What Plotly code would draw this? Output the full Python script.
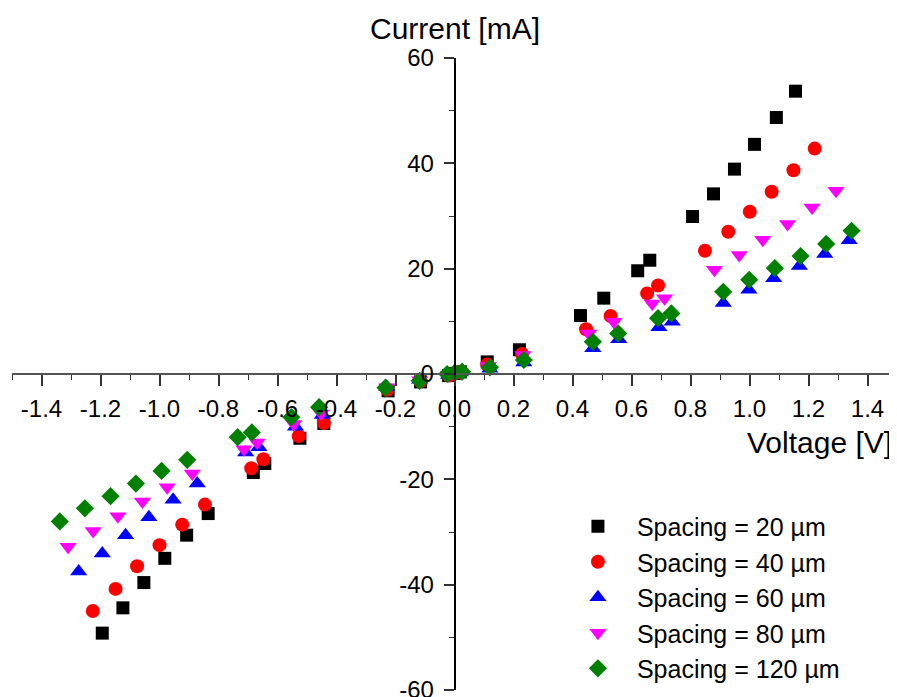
import plotly.graph_objects as go

# ---- data (Voltage [V], Current [mA]) ----
v20 = [-1.194, -1.124, -1.053, -0.982, -0.908, -0.835, -0.682, -0.643, -0.524, -0.443, -0.225, -0.115,
       -0.02, 0.0, 0.02, 0.111, 0.220, 0.427, 0.506, 0.621, 0.662, 0.807, 0.878, 0.949, 1.017, 1.091, 1.156]
i20 = [-49.2, -44.4, -39.6, -35.0, -30.6, -26.5, -18.7, -17.0, -12.2, -9.4, -3.2, -1.5,
       -0.3, 0.1, 0.4, 2.3, 4.6, 11.1, 14.4, 19.6, 21.6, 29.9, 34.2, 38.9, 43.6, 48.7, 53.7]

v40 = [-1.226, -1.149, -1.076, -1.0, -0.923, -0.846, -0.689, -0.648, -0.528, -0.443, -0.228, -0.115,
       -0.02, 0.0, 0.02, 0.111, 0.229, 0.446, 0.529, 0.653, 0.690, 0.849, 0.928, 1.001, 1.075, 1.149, 1.221]
i40 = [-45.0, -40.8, -36.5, -32.5, -28.6, -24.8, -17.9, -16.2, -11.8, -9.3, -3.0, -1.4,
       -0.3, 0.1, 0.4, 1.8, 3.8, 8.5, 11.0, 15.3, 16.8, 23.4, 27.0, 30.8, 34.6, 38.7, 42.8]

v60 = [-1.274, -1.194, -1.115, -1.036, -0.954, -0.872, -0.708, -0.663, -0.539, -0.448, -0.23, -0.118,
       -0.02, 0.0, 0.02, 0.12, 0.235, 0.469, 0.557, 0.693, 0.738, 0.911, 0.998, 1.082, 1.169, 1.255, 1.338]
i60 = [-37.5, -34.1, -30.6, -27.2, -23.9, -20.8, -14.9, -13.9, -10.0, -7.8, -2.4, -1.1,
       -0.2, 0.0, 0.3, 1.0, 2.2, 4.9, 6.6, 8.9, 9.9, 13.5, 16.0, 18.2, 20.5, 22.8, 25.4]

v80 = [-1.310, -1.225, -1.141, -1.058, -0.974, -0.889, -0.714, -0.669, -0.545, -0.452, -0.23, -0.118,
       -0.02, 0.0, 0.02, 0.115, 0.232, 0.455, 0.540, 0.670, 0.712, 0.881, 0.965, 1.045, 1.129, 1.212, 1.293]
i80 = [-32.8, -29.8, -27.0, -24.2, -21.5, -18.9, -14.3, -13.0, -9.5, -7.5, -2.5, -1.2,
       -0.2, 0.0, 0.3, 1.5, 3.6, 7.7, 9.9, 13.4, 14.4, 19.8, 22.6, 25.5, 28.5, 31.6, 34.8]

v120 = [-1.338, -1.253, -1.166, -1.080, -0.993, -0.906, -0.735, -0.687, -0.553, -0.459, -0.234, -0.118,
        -0.025, 0.001, 0.026, 0.120, 0.235, 0.469, 0.555, 0.690, 0.735, 0.911, 0.999, 1.086, 1.173, 1.260, 1.346]
i120 = [-28.0, -25.5, -23.2, -20.8, -18.4, -16.3, -12.0, -11.1, -8.2, -6.3, -2.6, -1.3,
        0.0, 0.25, 0.44, 1.27, 2.66, 6.1, 7.7, 10.6, 11.5, 15.6, 17.9, 20.1, 22.4, 24.7, 27.2]

series_names = ["Spacing = 20 µm", "Spacing = 40 µm", "Spacing = 60 µm",
                "Spacing = 80 µm", "Spacing = 120 µm"]

# tick labels (plain hyphen minus, as in the original)
x_tick_vals = [-1.4, -1.2, -1.0, -0.8, -0.6, -0.4, -0.2, 0.0, 0.2, 0.4, 0.6, 0.8, 1.0, 1.2, 1.4]
x_tick_text = ["-1.4", "-1.2", "-1.0", "-0.8", "-0.6", "-0.4", "-0.2", "0.0",
               "0.2", "0.4", "0.6", "0.8", "1.0", "1.2", "1.4"]
y_tick_vals = [-60, -40, -20, 0, 20, 40, 60]
y_tick_text = ["-60", "-40", "-20", "0", "20", "40", "60"]

FONT = "Liberation Sans, Arial, sans-serif"

styles = [
    dict(symbol="square", color="#000000", size=13),
    dict(symbol="circle", color="#FF0000", size=14),
    dict(symbol="triangle-up", color="#0000FF", size=15),
    dict(symbol="triangle-down", color="#FF00FF", size=15),
    dict(symbol="diamond", color="#008000", size=14),
]

fig = go.Figure()
for name, xs, ys, st in zip(series_names, [v20, v40, v60, v80, v120],
                            [i20, i40, i60, i80, i120], styles):
    fig.add_trace(go.Scatter(
        x=xs, y=ys, mode="markers", name=name,
        marker=dict(symbol=st["symbol"], color=st["color"], size=st["size"],
                    line=dict(width=0)),
    ))

# page body has an 8px margin, so the figure is sized to fit the 897x697 window
fig.update_layout(
    width=889, height=689,
    margin=dict(l=4, r=0, t=50, b=7, autoexpand=False),
    paper_bgcolor="white", plot_bgcolor="white",
    font=dict(family=FONT, color="black"),
    showlegend=True,
    legend=dict(
        x=0.618, y=0.295, xanchor="left", yanchor="top",
        font=dict(size=25, family=FONT, color="black"),
        bgcolor="rgba(0,0,0,0)", borderwidth=0,
        itemwidth=68, itemsizing="trace", tracegroupgap=0,
    ),
    xaxis=dict(
        range=[-1.5, 1.5], anchor="free", position=0.5,
        showline=True, linecolor="#555555", linewidth=1.5,
        showgrid=False, zeroline=False,
        ticks="outside", ticklen=11, tickwidth=1.5, tickcolor="#333333",
        tickmode="array", tickvals=x_tick_vals, ticktext=x_tick_text,
        tickfont=dict(size=24, family=FONT, color="black"),
        ticklabelstandoff=2, ticklabeloverflow="allow",
        minor=dict(ticks="outside", ticklen=5, tickwidth=1.2, tickcolor="#333333",
                   tickmode="linear", tick0=0, dtick=0.1),
        automargin=False,
    ),
    yaxis=dict(
        range=[-60, 60], anchor="free", position=0.5,
        showline=True, linecolor="#000000", linewidth=1.5,
        showgrid=False, zeroline=False,
        ticks="outside", ticklen=10, tickwidth=1.5, tickcolor="#333333",
        tickmode="array", tickvals=y_tick_vals, ticktext=y_tick_text,
        tickfont=dict(size=24, family=FONT, color="black"),
        ticklabelstandoff=5, ticklabeloverflow="allow",
        minor=dict(ticks="outside", ticklen=5, tickwidth=1.2, tickcolor="#333333",
                   tickmode="linear", tick0=0, dtick=10),
        automargin=False,
    ),
    annotations=[
        dict(text="Current [mA]", xref="x", x=0, yref="paper", y=1.046,
             xanchor="center", yanchor="middle", showarrow=False,
             font=dict(size=30, family=FONT, color="black")),
        dict(text="Voltage [V]", xref="paper", x=0.9966, yref="paper", y=0.392,
             xanchor="right", yanchor="middle", showarrow=False,
             font=dict(size=30, family=FONT, color="black")),
    ],
)

fig.write_html("out.html")
